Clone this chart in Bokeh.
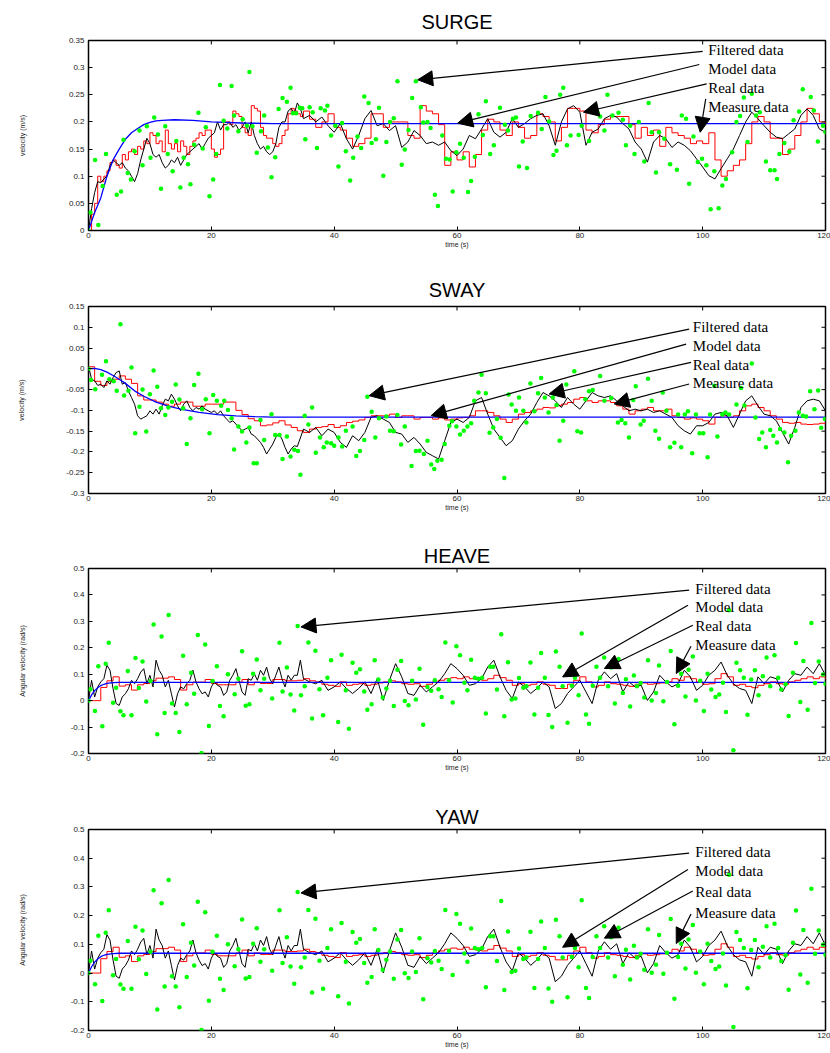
import math
from bokeh.plotting import figure
from bokeh.models import (Range1d, FixedTicker, NumeralTickFormatter,
                          ColumnDataSource, Arrow, NormalHead)
from bokeh.layouts import column
from bokeh.core.properties import value
from bokeh.embed import file_html
from bokeh.resources import INLINE

# ---------------- common ----------------
x_ticks = [0, 20, 40, 60, 80, 100, 120]
labels = ["Filtered data", "Model data", "Real data", "Measure data"]
half_t70 = [i * 0.5 for i in range(70)] + list(range(35, 121))
half_t69 = [i * 0.5 for i in range(69)] + list(range(35, 121))
sec_t = list(range(121))

# ---------------- SURGE ----------------
surge_yticks = [0, 0.05, 0.1, 0.15, 0.2, 0.25, 0.3, 0.35]
surge_real_t = half_t70
surge_real = [
    0, 0.04, 0.07, 0.09, 0.088, 0.095, 0.1, 0.12, 0.13, 0.125,
    0.12, 0.125, 0.115, 0.11, 0.1, 0.09, 0.105, 0.13, 0.15, 0.17,
    0.16, 0.14, 0.135, 0.14, 0.125, 0.115, 0.12, 0.13, 0.125, 0.135,
    0.12, 0.13, 0.14, 0.145, 0.15, 0.155, 0.16, 0.15, 0.16, 0.17,
    0.175, 0.18, 0.2, 0.185, 0.195, 0.195, 0.2, 0.19, 0.195, 0.185,
    0.19, 0.2, 0.18, 0.2, 0.175, 0.16, 0.15, 0.155, 0.145, 0.14,
    0.145, 0.16, 0.19, 0.2, 0.2, 0.22, 0.225, 0.215, 0.235, 0.225,
    0.206, 0.212, 0.2, 0.209, 0.193, 0.181, 0.197, 0.169, 0.15, 0.175,
    0.206, 0.221, 0.193, 0.197, 0.184, 0.193, 0.153, 0.163, 0.184, 0.175,
    0.16, 0.163, 0.157, 0.163, 0.147, 0.138, 0.15, 0.175, 0.169, 0.187,
    0.206, 0.181, 0.172, 0.181, 0.206, 0.19, 0.197, 0.206, 0.212, 0.215,
    0.193, 0.157, 0.2, 0.224, 0.23, 0.218, 0.157, 0.181, 0.187, 0.206,
    0.212, 0.209, 0.197, 0.187, 0.163, 0.15, 0.126, 0.163, 0.175, 0.169,
    0.153, 0.163, 0.157, 0.147, 0.132, 0.117, 0.101, 0.095, 0.114, 0.132,
    0.15, 0.175, 0.2, 0.218, 0.206, 0.193, 0.181, 0.172, 0.169, 0.178,
    0.187, 0.212, 0.224, 0.212, 0.187, 0.181]
surge_filt_t = half_t70
surge_filt = [
    0, 0.03, 0.05, 0.1, 0.09, 0.1, 0.11, 0.125, 0.13, 0.12,
    0.115, 0.14, 0.13, 0.145, 0.15, 0.14, 0.155, 0.15, 0.165, 0.16,
    0.18, 0.175, 0.16, 0.165, 0.145, 0.185, 0.16, 0.15, 0.16, 0.145,
    0.165, 0.155, 0.14, 0.155, 0.165, 0.17, 0.18, 0.175, 0.185, 0.185,
    0.15, 0.135, 0.14, 0.15, 0.2, 0.2, 0.195, 0.22, 0.215, 0.21,
    0.19, 0.18, 0.175, 0.23, 0.225, 0.22, 0.19, 0.175, 0.17, 0.17,
    0.16, 0.155, 0.16, 0.175, 0.185, 0.215, 0.225, 0.22, 0.215, 0.21,
    0.22, 0.205, 0.19, 0.2, 0.215, 0.19, 0.185, 0.17, 0.155, 0.16,
    0.17, 0.215, 0.215, 0.19, 0.2, 0.2, 0.2, 0.175, 0.17, 0.23,
    0.22, 0.215, 0.195, 0.12, 0.145, 0.13, 0.145, 0.117, 0.14, 0.185,
    0.205, 0.2, 0.185, 0.175, 0.2, 0.19, 0.17, 0.175, 0.215, 0.21,
    0.2, 0.165, 0.19, 0.225, 0.225, 0.22, 0.185, 0.18, 0.195, 0.205,
    0.21, 0.21, 0.21, 0.195, 0.17, 0.19, 0.175, 0.185, 0.155, 0.19,
    0.18, 0.175, 0.17, 0.16, 0.165, 0.16, 0.18, 0.13, 0.1, 0.11,
    0.12, 0.13, 0.16, 0.2, 0.21, 0.2, 0.17, 0.17, 0.14, 0.15,
    0.175, 0.2, 0.225, 0.215, 0.2, 0.195]
surge_model_t = [0, 1, 2, 3, 4, 5, 6, 7, 8, 9, 10, 11, 12, 14, 17, 20, 25, 30, 120]
surge_model = [0, 0.033, 0.06, 0.1, 0.13, 0.15, 0.168, 0.18, 0.188, 0.195,
               0.199, 0.202, 0.203, 0.204, 0.203, 0.2, 0.198, 0.197, 0.197]
surge_meas_t = [
    0, 0.3, 1.07, 1.6, 2.3, 2.85, 4.6, 5.3, 5.7, 6.4, 6.9, 7.5, 8.3, 8.8, 9.5, 10.1,
    10.7, 11.3, 11.8, 12.5, 12.9, 13.7, 14.3, 14.96, 15.5, 16.2, 16.6, 17.2, 17.9,
    18.6, 19.1, 19.7, 20.3, 20.8, 21.4, 22.0, 22.6, 23.3, 23.7, 24.4, 25.1, 25.8,
    26.2, 26.7, 27.4, 28.1, 28.6, 29.2, 29.8, 30.4, 30.96, 31.6, 32.3, 32.9, 33.3,
    33.8, 34.4, 34.8, 35.3, 36.0, 36.5, 37.2, 37.8, 38.5, 38.9, 39.5, 40.2, 40.7,
    41.3, 41.9, 42.6, 43.1, 43.8, 44.4, 44.9, 45.6, 46.1, 46.8, 47.3, 48.0, 48.5,
    49.1, 49.7, 50.3, 51.0, 51.5, 52.1, 52.7, 53.3, 54.1, 54.5, 55.2, 55.7, 56.4,
    56.9, 57.6, 58.2, 58.8, 59.3, 59.9, 60.5, 61.1, 61.8, 62.3, 62.9, 63.5, 64.2,
    64.7, 65.4, 66.0, 67.0, 67.8, 68.3, 69.1, 69.6, 70.1, 70.7, 71.4, 72.0, 73.2,
    73.8, 74.4, 75.0, 75.7, 76.2, 76.8, 77.3, 77.9, 78.5, 79.8, 80.3, 81.5, 82.9,
    83.3, 84.0, 84.5, 85.3, 86.3, 87.0, 87.5, 88.2, 88.9, 89.6, 90.5, 91.2, 91.7,
    92.4, 92.9, 93.75, 94.7, 95.8, 96.6, 97.3, 97.8, 98.5, 99.2, 99.9, 100.6, 101.3,
    101.9, 102.6, 103.2, 103.8, 104.8, 105.5, 106.1, 106.7, 107.3, 108.0, 108.7,
    109.3, 110.3, 111.0, 111.7, 112.1, 112.5, 113.3, 114.1, 114.8, 115.7, 116.3,
    117.6, 118.1, 118.75, 119.6, 120]
surge_meas = [
    0, 0.033, 0.13, 0.01, 0.082, 0.141, 0.066, 0.072, 0.167, 0.106, 0.094, 0.146, 0.184, 0.12, 0.192, 0.134,
    0.208, 0.177, 0.077, 0.192, 0.141, 0.109, 0.165, 0.079, 0.134, 0.122, 0.085, 0.158, 0.217,
    0.151, 0.19, 0.063, 0.094, 0.141, 0.268, 0.202, 0.188, 0.266, 0.212, 0.183, 0.205, 0.193,
    0.292, 0.192, 0.143, 0.183, 0.212, 0.153, 0.098, 0.135, 0.224, 0.244, 0.237, 0.263, 0.216,
    0.216, 0.226, 0.225, 0.168, 0.227, 0.218, 0.152, 0.225, 0.221, 0.23, 0.175, 0.193, 0.118,
    0.198, 0.146, 0.092, 0.134, 0.173, 0.152, 0.247, 0.235, 0.161, 0.168, 0.226, 0.101, 0.163,
    0.2, 0.207, 0.275, 0.121, 0.149, 0.185, 0.244, 0.275, 0.227, 0.199, 0.2, 0.189, 0.066,
    0.045, 0.175, 0.132, 0.131, 0.072, 0.144, 0.16, 0.134, 0.071, 0.091, 0.136, 0.214, 0.176,
    0.238, 0.141, 0.157, 0.226, 0.195, 0.184, 0.206, 0.208, 0.118, 0.164, 0.115, 0.211, 0.217,
    0.187, 0.246, 0.201, 0.139, 0.147, 0.25, 0.263, 0.157, 0.175, 0.176, 0.193, 0.165, 0.217,
    0.21, 0.184, 0.25, 0.212, 0.217, 0.204, 0.157, 0.193, 0.141, 0.2, 0.127, 0.235, 0.181,
    0.107, 0.181, 0.169, 0.122, 0.112, 0.212, 0.206, 0.086, 0.173, 0.126, 0.132, 0.12, 0.039,
    0.109, 0.041, 0.083, 0.095, 0.144, 0.2, 0.211, 0.245, 0.163, 0.252, 0.212,
    0.218, 0.127, 0.111, 0.111, 0.095, 0.141, 0.161, 0.145, 0.203, 0.219, 0.26,
    0.246, 0.221, 0.164, 0.193, 0.181]
surge_text_x = [100.9, 100.9, 100.9, 100.9]
surge_text_y = [0.3316, 0.2979, 0.2629, 0.2284]
surge_arrow_x0 = [100.0, 99.45, 100.65, 100.5]
surge_arrow_y0 = [0.330, 0.3058, 0.2702, 0.2426]
surge_arrow_x1 = [53.6, 60.1, 80.6, 99.6]
surge_arrow_y1 = [0.2776, 0.1977, 0.2179, 0.181]

# ---------------- SWAY ----------------
sway_yticks = [-0.3, -0.25, -0.2, -0.15, -0.1, -0.05, 0, 0.05, 0.1, 0.15]
sway_real_t = half_t69
sway_real = [
    0.007, -0.025, -0.029, -0.04, -0.037, -0.045, -0.029, -0.037, -0.021, -0.009,
    -0.005, -0.037, -0.033, -0.053, -0.069, -0.085, -0.113, -0.121, -0.117, -0.113,
    -0.101, -0.109, -0.097, -0.109, -0.089, -0.073, -0.077, -0.061, -0.073, -0.089,
    -0.101, -0.085, -0.077, -0.093, -0.101, -0.093, -0.097, -0.089, -0.097, -0.101,
    -0.105, -0.101, -0.109, -0.101, -0.113, -0.121, -0.129, -0.125, -0.133, -0.141,
    -0.149, -0.145, -0.141, -0.157, -0.161, -0.169, -0.177, -0.189, -0.205, -0.193,
    -0.181, -0.165, -0.157, -0.169, -0.189, -0.205, -0.193, -0.185, -0.187,
    -0.145, -0.153, -0.141, -0.161, -0.145, -0.153, -0.177, -0.189, -0.161, -0.173,
    -0.153, -0.117, -0.113, -0.121, -0.129, -0.153, -0.157, -0.177, -0.165, -0.181,
    -0.201, -0.209, -0.217, -0.173, -0.129, -0.121, -0.129, -0.117, -0.077, -0.069,
    -0.109, -0.145, -0.165, -0.185, -0.173, -0.145, -0.125, -0.109, -0.081, -0.057,
    -0.065, -0.077, -0.093, -0.069, -0.085, -0.097, -0.077, -0.057, -0.065, -0.069,
    -0.065, -0.077, -0.089, -0.101, -0.097, -0.101, -0.097, -0.105, -0.101, -0.109,
    -0.117, -0.137, -0.149, -0.157, -0.137, -0.137, -0.129, -0.109, -0.105, -0.113,
    -0.141, -0.109, -0.077, -0.065, -0.089, -0.109, -0.113, -0.125, -0.153, -0.181,
    -0.141, -0.093, -0.077, -0.073, -0.077, -0.101]
sway_filt_t = sec_t
sway_filt = [
    0.005, -0.03, -0.04, -0.03, -0.025, -0.017, -0.025, -0.035, -0.065, -0.075,
    -0.075, -0.08, -0.085, -0.09, -0.085, -0.08, -0.08, -0.09, -0.09, -0.085,
    -0.085, -0.085, -0.08, -0.08, -0.1, -0.11, -0.12, -0.125, -0.137, -0.135,
    -0.13, -0.125, -0.135, -0.141, -0.149, -0.153, -0.145, -0.141, -0.139, -0.134,
    -0.141, -0.137, -0.129, -0.126, -0.123, -0.117, -0.113, -0.113, -0.113, -0.109,
    -0.117, -0.113, -0.113, -0.121, -0.117, -0.117, -0.121, -0.118, -0.123, -0.121,
    -0.118, -0.117, -0.113, -0.101, -0.101, -0.105, -0.113, -0.121, -0.129, -0.121,
    -0.109, -0.105, -0.101, -0.097, -0.093, -0.094, -0.089, -0.085, -0.081, -0.073,
    -0.069, -0.077, -0.081, -0.077, -0.077, -0.081, -0.089, -0.097, -0.109, -0.101,
    -0.097, -0.093, -0.101, -0.101, -0.097, -0.113, -0.117, -0.121, -0.118, -0.121,
    -0.125, -0.133, -0.117, -0.113, -0.117, -0.113, -0.101, -0.089, -0.085, -0.093,
    -0.101, -0.113, -0.121, -0.129, -0.131, -0.129, -0.133, -0.134, -0.133, -0.131,
    -0.129]
sway_model_t = [0, 1, 2, 3, 4, 5, 6, 7.5, 9, 11, 13, 15, 18, 21, 24, 27, 30, 120]
sway_model = [0, 0.001, -0.002, -0.008, -0.016, -0.025, -0.035, -0.053, -0.066, -0.08,
              -0.09, -0.097, -0.105, -0.11, -0.113, -0.115, -0.116, -0.116]
sway_meas_t = [
    0, 0.4, 1.1, 2.2, 2.85, 3.4, 4.1, 4.6, 5.2, 5.8, 6.5, 7.0, 7.6, 8.3, 8.8, 9.4, 10.0,
    10.6, 11.2, 11.8, 12.5, 13.0, 13.6, 14.2, 14.8, 15.4, 16.0, 16.6, 17.2, 17.9, 18.5,
    19.1, 19.7, 20.3, 20.9, 21.6, 22.1, 22.7, 23.3, 23.7, 24.4, 25.0, 25.7, 26.2, 26.9,
    27.4, 28.0, 28.6, 29.8, 30.4, 31.1, 31.6, 32.3, 32.9, 33.5, 34.1, 34.5,
    35.2, 35.8, 36.4, 37.0, 37.7, 38.3, 38.8, 39.5, 40.0, 40.7, 41.3, 41.9, 43.0, 43.6,
    44.2, 44.9, 45.4, 46.1, 46.7, 47.3, 48.5, 49.1, 49.7, 50.3, 50.9, 51.5, 52.6, 53.3,
    53.9, 54.6, 55.2, 55.8, 56.3, 56.8, 57.5, 58.0, 58.75, 59.2, 59.9, 60.5, 61.1, 61.7,
    62.3, 62.8, 63.5, 64.0, 64.7, 65.3, 65.9, 66.5, 67.1, 67.7, 68.4, 68.9, 69.6, 70.1,
    70.8, 71.3, 71.95, 72.6, 73.2, 73.7, 74.3, 74.9, 75.6, 76.2, 76.7, 77.3, 77.8, 79.1,
    79.6, 80.2, 80.9, 81.5, 82.1, 83.3, 84.0, 85.1, 86.2, 86.8, 87.4, 88.0, 88.7, 89.1,
    89.9, 90.4, 91.1, 91.7, 92.3, 92.9, 93.5, 94.1, 94.7, 95.4, 96.0, 96.5, 97.1, 97.6,
    98.3, 98.9, 99.5, 100.1, 100.8, 101.2, 101.9, 102.4, 103.2, 103.7, 104.3, 105.5,
    106.25, 106.8, 108.0, 108.6, 109.2, 109.7, 110.3, 111.0, 111.5, 112.1, 112.6, 113.3,
    113.9, 114.4, 115.1, 115.65, 116.3, 116.85, 117.5, 118.2, 118.8, 119.3, 119.9]
sway_meas = [
    0, -0.027, -0.049, -0.014, 0.018, -0.025, -0.03, -0.053, 0.107, -0.064, -0.053, 0.003, -0.155, -0.091, -0.05, -0.151, -0.061,
    -0.004, -0.043, -0.095, -0.111, -0.093, -0.079, -0.038, -0.074, -0.095, -0.181, -0.119, -0.039, -0.012, -0.097,
    -0.073, -0.155, -0.063, -0.077, -0.089, -0.077, -0.099, -0.119, -0.194, -0.139, -0.151, -0.177, -0.141, -0.227,
    -0.227, -0.123, -0.171, -0.109, -0.159, -0.159, -0.217, -0.163, -0.211, -0.195, -0.198, -0.255,
    -0.113, -0.134, -0.093, -0.202, -0.165, -0.189, -0.177, -0.179, -0.185, -0.165, -0.187, -0.149, -0.139, -0.21,
    -0.198, -0.171, -0.067, -0.103, -0.165, -0.119, -0.115, -0.149, -0.15, -0.111, -0.182, -0.139, -0.234, -0.198,
    -0.197, -0.205, -0.173, -0.23, -0.241, -0.221, -0.219, -0.181, -0.137, -0.126, -0.139, -0.158, -0.149, -0.139,
    -0.131, -0.077, -0.057, -0.014, -0.059, -0.154, -0.141, -0.121, -0.166, -0.263, -0.062, -0.086, -0.101, -0.069,
    -0.101, -0.129, -0.035, -0.102, -0.059, -0.022, -0.069, -0.105, -0.069, -0.087, -0.173, -0.125, -0.038, -0.006,
    -0.15, -0.153, -0.073, -0.054, -0.051, -0.017, -0.077, -0.07, -0.129, -0.123, -0.131, -0.165, -0.075, -0.042,
    -0.134, -0.125, -0.024, -0.077, -0.149, -0.168, -0.057, -0.101, -0.189, -0.178, -0.11, -0.189, -0.11, -0.102,
    -0.203, -0.11, -0.155, -0.155, -0.213, -0.11, -0.041, -0.163, -0.11, -0.105, -0.11, -0.086,
    -0.046, -0.088, 0.013, -0.117, -0.169, -0.153, -0.189, -0.147, -0.161, -0.177, -0.145, -0.153,
    -0.225, -0.161, -0.149, -0.105, -0.113, -0.115, -0.054, -0.097, -0.052, -0.142, -0.121]
sway_text_x = [98.4, 98.4, 98.4, 98.4]
sway_text_y = [0.0995, 0.0556, 0.0099, -0.035]
sway_arrow_x0 = [97.8, 97.3, 98.1, 97.8]
sway_arrow_y0 = [0.0957, 0.0596, 0.0154, -0.0365]
sway_arrow_x1 = [45.7, 55.8, 75.0, 85.6]
sway_arrow_y1 = [-0.0646, -0.1126, -0.0605, -0.0845]

# ---------------- HEAVE ----------------
ang_yticks = [-0.2, -0.1, 0, 0.1, 0.2, 0.3, 0.4, 0.5]
heave_real_t = half_t70
heave_real = [
    0, 0.077, 0.014, 0.052, 0.071, 0.083, 0.134, 0.115, 0.045, -0.011,
    -0.018, 0.014, 0.026, 0.045, 0.077, 0.064, 0.083, 0.108, 0.121, 0.064,
    0.096, 0.052, 0.153, 0.115, 0.096, 0.052, 0.077, 0.026, -0.024, 0.026,
    0.052, 0.045, 0.064, 0.077, 0.115, 0.071, 0.045, 0.026, 0.033, 0.014,
    0.052, 0.071, 0.058, 0.052, 0.02, 0.033, 0.077, 0.096, 0.121, 0.077,
    0.033, 0.02, 0.083, 0.077, 0.102, 0.077, 0.115, 0.096, 0.127, 0.083,
    0.064, 0.096, 0.127, 0.083, 0.052, 0.096, 0.077, 0.096, 0.096, 0.153,
    0.083, 0.071, 0.064, 0.077, 0.039, 0.052, 0.071, 0.046, 0.027, 0.046,
    0.071, 0.027, 0.083, 0.001, 0.077, 0.14, 0.09, 0.027, 0.02, 0.058,
    0.033, 0.052, 0.071, 0.102, 0.14, 0.121, 0.096, 0.058, 0.064, 0.083,
    0.127, 0.153, 0.09, 0.039, 0.008, 0.071, 0.052, 0.027, 0.046, 0.071,
    0.052, -0.03, -0.011, 0.027, 0.052, 0.077, 0.033, -0.011, 0.077, 0.109,
    0.083, 0.102, 0.033, 0.071, 0.052, 0.058, 0.001, 0.033, 0.096, 0.071,
    0.052, 0.064, 0.115, 0.09, 0.039, 0.058, 0.096, 0.115, 0.146, 0.096,
    0.064, 0.046, 0.039, -0.011, 0.09, 0.064, 0.09, 0.083, 0.033, 0.077,
    0.102, 0.096, 0.127, 0.102, 0.14, 0.096]
heave_filt_t = sec_t
heave_filt = [
    0.0, 0.0, 0.05, 0.075, 0.09, 0.055, 0.06, 0.04, 0.06, 0.065,
    0.075, 0.085, 0.085, 0.09, 0.08, 0.04, 0.06, 0.07, 0.07, 0.08,
    0.065, 0.06, 0.06, 0.06, 0.07, 0.08, 0.06, 0.07, 0.065, 0.065,
    0.08, 0.08, 0.075, 0.075, 0.077, 0.083, 0.075, 0.071, 0.062, 0.058,
    0.054, 0.071, 0.058, 0.062, 0.064, 0.058, 0.062, 0.067, 0.071, 0.075,
    0.071, 0.064, 0.062, 0.064, 0.054, 0.062, 0.071, 0.077, 0.083, 0.087,
    0.083, 0.09, 0.083, 0.08, 0.077, 0.083, 0.096, 0.087, 0.077, 0.058,
    0.064, 0.058, 0.062, 0.071, 0.062, 0.058, 0.046, 0.046, 0.062, 0.077,
    0.09, 0.071, 0.052, 0.058, 0.071, 0.064, 0.062, 0.058, 0.054, 0.062,
    0.067, 0.062, 0.064, 0.067, 0.071, 0.083, 0.077, 0.09, 0.083, 0.071,
    0.062, 0.064, 0.083, 0.102, 0.09, 0.058, 0.062, 0.054, 0.049, 0.058,
    0.064, 0.071, 0.064, 0.062, 0.071, 0.077, 0.083, 0.09, 0.083, 0.09,
    0.08]
heave_model_t = [0, 0.5, 1, 1.5, 2, 2.5, 3, 4, 5, 120]
heave_model = [0, 0.022, 0.038, 0.049, 0.057, 0.062, 0.065, 0.068, 0.069, 0.069]
heave_meas_t = [
    0, 0.3, 1.06, 1.6, 2.25, 2.8, 3.3, 4.0, 4.5, 5.2, 5.7, 6.4, 7.0, 7.65, 8.2, 8.8, 9.4,
    10.1, 10.6, 11.2, 11.9, 12.4, 13.05, 13.6, 14.2, 14.8, 15.4, 16.0, 16.7, 17.2, 17.8,
    18.4, 19.0, 19.6, 20.2, 20.9, 21.4, 22.0, 22.7, 23.8, 24.4, 25.0, 25.6, 26.2, 26.8,
    27.4, 28.0, 28.6, 29.9, 31.1, 31.6, 32.3, 32.9, 33.5, 34.05, 34.6,
    35.2, 35.8, 36.4, 36.95, 37.6, 38.2, 38.9, 39.5, 40.65, 41.2, 41.9, 42.4, 43.0, 43.6,
    44.2, 44.9, 45.4, 46.1, 46.6, 47.2, 47.9, 48.5, 49.1, 49.7, 50.3, 50.9, 51.5, 52.1,
    52.7, 53.3, 53.9, 54.5, 55.2, 55.8, 56.4, 57.0, 57.5, 58.1, 58.7, 59.3, 59.9, 60.5,
    61.2, 61.7, 62.3, 62.9, 63.5, 64.1, 64.7, 65.4, 65.9, 66.5, 67.2, 67.7, 68.3, 68.9,
    69.5, 70.1, 70.8, 71.3, 71.96, 72.6, 73.2, 73.7, 74.3, 74.9, 75.5, 76.1, 76.7, 77.2,
    78.0, 78.7, 79.2, 79.8, 80.3, 81.0, 81.5, 82.1, 82.7, 83.3, 83.97, 84.6, 85.1, 85.7,
    86.3, 87.0, 87.5, 88.2, 88.8, 89.3, 89.9, 90.5, 91.1, 91.7, 92.4, 92.9, 93.6, 94.2,
    94.8, 95.4, 96.0, 96.5, 97.2, 97.7, 98.4, 98.9, 99.6, 100.2, 100.8, 101.4, 102.1,
    102.7, 103.3, 103.8, 104.3, 105.0, 105.5, 106.1, 106.7, 107.3, 107.9, 108.5, 109.1,
    109.8, 110.4, 111.0, 111.7, 112.3, 112.8, 113.5, 114.0, 114.7, 115.2, 115.9, 116.4,
    117.1, 117.7, 118.3, 118.9, 119.6, 120]
heave_meas = [
    0, 0.043, -0.039, 0.13, -0.097, 0.14, 0.219, -0.008, 0.049, -0.04, -0.055, 0.112, -0.055, 0.161, 0.048, 0.148, -0.003,
    0.074, 0.288, -0.127, 0.243, -0.047, 0.324, -0.011, -0.047, -0.119, 0.17, -0.014, 0.106, 0.026, 0.248,
    -0.198, 0.212, -0.096, 0.074, 0.13, -0.02, -0.059, 0.1, 0.024, 0.083, 0.187, -0.019, -0.014, 0.102,
    0.156, 0.039, 0.083, 0.008, 0.219, 0.035, 0.125, 0.023, -0.037, 0.282, 0.02,
    0.054, 0.22, -0.068, 0.189, 0.043, -0.055, 0.087, 0.153, -0.081, 0.174, 0.039, -0.106, 0.143, 0.106,
    0.119, 0.035, -0.034, -0.014, 0.153, 0.08, 0.012, 0.046, 0.075, -0.02, 0.117, 0.15, -0.001, -0.017,
    0.075, 0.004, 0.121, -0.091, 0.052, 0.037, 0.077, 0.043, 0.014, 0.22, 0.077, -0.007, 0.206, 0.172,
    0.068, 0.039, 0.155, 0.087, 0.083, 0.087, -0.049, 0.128, 0.128, 0.042, 0.251, -0.059, 0.145, 0.004,
    0.008, 0.086, 0.049, 0.054, 0.144, -0.052, 0.049, 0.18, 0.087, -0.054, -0.1, 0.186, 0.128, 0.054,
    -0.084, 0.056, 0.087, 0.02, 0.254, -0.052, -0.087, 0.056, 0.128, 0.087, 0.163, 0.054, 0.125, -0.011,
    0.158, 0.029, 0.081, -0.022, 0.095, 0.054, 0.067, 0.012, 0.153, 0.001, 0.029, 0.133, -0.002, 0.071,
    0.188, -0.089, 0.056, 0.102, 0.016, 0.117, 0.167, 0.001, 0.075, -0.039, 0.102, 0.042, 0.014,
    0.023, 0.068, -0.043, 0.342, -0.188, 0.143, 0.115, 0.087, -0.053, 0.08, 0.115, 0.02,
    0.092, 0.163, 0.054, 0.172, 0.087, 0.042, 0.062, -0.058, 0.106, 0.218, -0.005, 0.15,
    -0.034, 0.294, 0.067, 0.148, 0.099, 0.064]
heave_text_x = [98.8, 98.8, 98.8, 98.8]
heave_text_y = [0.4217, 0.355, 0.2832, 0.2098]
heave_arrow_x0 = [97.8, 97.6, 98.4, 98.1]
heave_arrow_y0 = [0.418, 0.361, 0.2855, 0.206]
heave_arrow_x1 = [34.6, 77.2, 84.0, 95.7]
heave_arrow_y1 = [0.279, 0.0898, 0.1216, 0.1027]

# ---------------- YAW (same recorded run) ----------------
yaw_real_t, yaw_real = list(heave_real_t), list(heave_real)
yaw_filt_t, yaw_filt = list(heave_filt_t), list(heave_filt)
yaw_model_t, yaw_model = list(heave_model_t), list(heave_model)
yaw_meas_t, yaw_meas = list(heave_meas_t), list(heave_meas)
yaw_text_x, yaw_text_y = list(heave_text_x), list(heave_text_y)
yaw_arrow_x0, yaw_arrow_y0 = list(heave_arrow_x0), list(heave_arrow_y0)
yaw_arrow_x1, yaw_arrow_y1 = list(heave_arrow_x1), list(heave_arrow_y1)

SANS = "Liberation Sans"
SERIF = "Liberation Serif"


def inward_axis(ax, ticks):
    ax.ticker = FixedTicker(ticks=ticks)
    ax.major_tick_in = 4
    ax.major_tick_out = 0
    ax.minor_tick_line_color = None
    ax.axis_line_color = None
    ax.major_tick_line_color = "black"
    ax.major_tick_line_width = 1
    ax.major_label_text_font = SANS
    ax.major_label_text_font_size = "8px"
    ax.major_label_text_color = "#222222"


def panel(title, ylabel, yr, yticks, frame_h, top_b, bot_b, t_standoff, yl_standoff,
          real_t, real, filt_t, filt, model_t, model, meas_t, meas,
          tx, ty, ax0, ay0, ax1, ay1):
    p = figure(frame_width=737, frame_height=frame_h,
               x_range=Range1d(0, 120), y_range=Range1d(*yr),
               output_backend="svg", toolbar_location=None,
               min_border_left=88, min_border_right=5,
               min_border_top=top_b, min_border_bottom=bot_b,
               background_fill_color="white", border_fill_color="white")
    p.grid.visible = False
    p.outline_line_color = "black"
    p.outline_line_width = 1.5
    p.title.text = title
    p.title.align = "center"
    p.title.text_font = SANS
    p.title.text_font_size = "20px"
    p.title.text_font_style = "normal"
    p.title.text_color = "black"
    p.title.standoff = t_standoff

    xa = p.below[0]
    inward_axis(xa, x_ticks)
    xa.major_label_standoff = 2
    xa.axis_label = "time (s)"
    xa.axis_label_text_font = SANS
    xa.axis_label_text_font_size = "7px"
    xa.axis_label_text_font_style = "normal"
    xa.axis_label_text_color = "#222222"
    xa.axis_label_standoff = 0

    ya = p.left[0]
    inward_axis(ya, yticks)
    ya.formatter = NumeralTickFormatter(format="0.[00]")
    ya.major_label_standoff = 4
    ya.axis_label = ylabel
    ya.axis_label_text_font = SANS
    ya.axis_label_text_font_size = "7px"
    ya.axis_label_text_font_style = "normal"
    ya.axis_label_text_color = "#222222"
    ya.axis_label_standoff = yl_standoff

    p.step(filt_t, filt, mode="after", line_color="red", line_width=1)
    p.line(real_t, real, line_color="black", line_width=1)
    p.line(model_t, model, line_color="blue", line_width=1.3)
    p.scatter(meas_t, meas, size=4.5, fill_color="#00ff00", line_color=None)

    # inward tick marks on the top and right edges of the box
    p.ray(x=x_ticks, y=[yr[1]] * len(x_ticks), length=4, length_units="screen",
          angle=-math.pi / 2, line_color="black", line_width=1)
    p.ray(x=[120] * len(yticks), y=yticks, length=4, length_units="screen",
          angle=math.pi, line_color="black", line_width=1)

    src = ColumnDataSource(dict(xs=ax0, ys=ay0, xe=ax1, ye=ay1))
    p.add_layout(Arrow(end=NormalHead(size=15, fill_color="black", line_color="black"),
                       x_start="xs", y_start="ys", x_end="xe", y_end="ye",
                       source=src, line_color="black", line_width=1.2))
    p.text(x=tx, y=ty, text=labels, text_font=value(SERIF), text_font_size="15px",
           text_baseline="middle", text_align="left", text_color="black")
    return p


p1 = panel("SURGE", "velocity (m/s)", (0, 0.35), surge_yticks, 190, 40, 41, 16, 40,
           surge_real_t, surge_real, surge_filt_t, surge_filt, surge_model_t, surge_model,
           surge_meas_t, surge_meas, surge_text_x, surge_text_y,
           surge_arrow_x0, surge_arrow_y0, surge_arrow_x1, surge_arrow_y1)
p2 = panel("SWAY", "velocity (m/s)", (-0.3, 0.15), sway_yticks, 187, 35, 45, 11, 38,
           sway_real_t, sway_real, sway_filt_t, sway_filt, sway_model_t, sway_model,
           sway_meas_t, sway_meas, sway_text_x, sway_text_y,
           sway_arrow_x0, sway_arrow_y0, sway_arrow_x1, sway_arrow_y1)
p3 = panel("HEAVE", "Angular velocity (rad/s)", (-0.2, 0.5), ang_yticks, 185, 30, 46, 3, 42,
           heave_real_t, heave_real, heave_filt_t, heave_filt, heave_model_t, heave_model,
           heave_meas_t, heave_meas, heave_text_x, heave_text_y,
           heave_arrow_x0, heave_arrow_y0, heave_arrow_x1, heave_arrow_y1)
p4 = panel("YAW", "Angular velocity (rad/s)", (-0.2, 0.5), ang_yticks, 201, 30, 20, 4, 42,
           yaw_real_t, yaw_real, yaw_filt_t, yaw_filt, yaw_model_t, yaw_model,
           yaw_meas_t, yaw_meas, yaw_text_x, yaw_text_y,
           yaw_arrow_x0, yaw_arrow_y0, yaw_arrow_x1, yaw_arrow_y1)

layout = column(p1, p2, p3, p4, spacing=0)
open("out.html", "w").write(file_html(layout, INLINE))
